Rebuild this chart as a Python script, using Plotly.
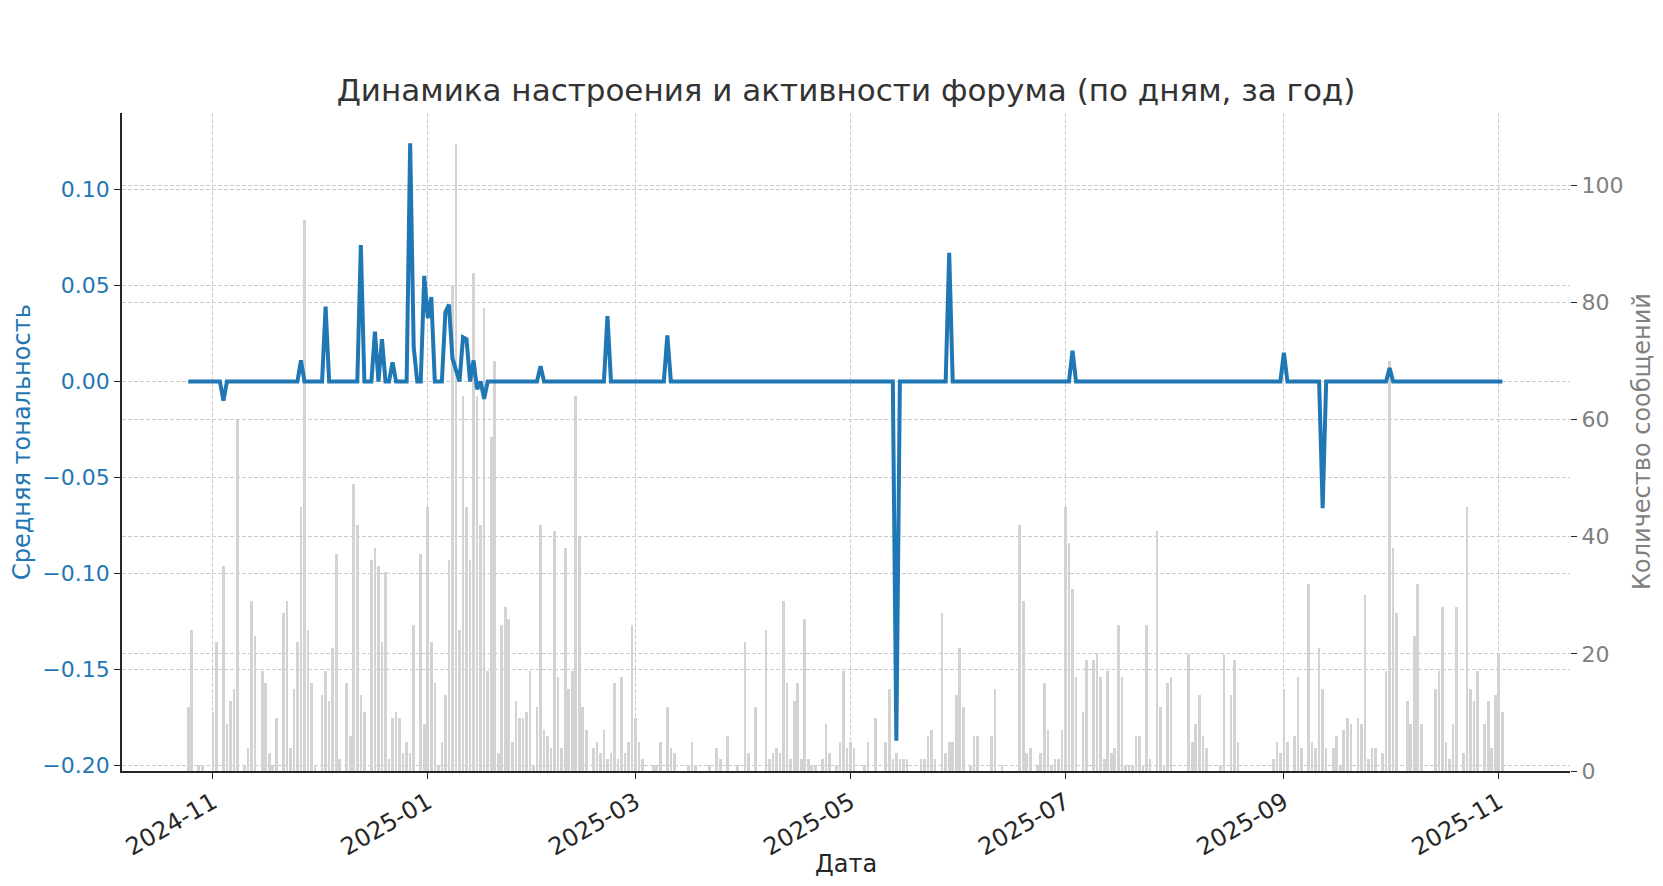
import pandas as pd
import plotly.graph_objects as go

START_DATE = "2024-10-25"

# Количество сообщений по дням (по месяцам, с 25.10.2024 по 02.11.2025)
counts_oct_2024 = [11, 24, 0, 1, 1, 0, 0]
counts_nov_2024 = [10, 22, 0, 35, 8, 12, 14, 60, 0, 1, 4, 29, 23, 0, 17, 15, 3, 1, 9, 0,
                   27, 29, 4, 14, 22, 45, 94, 24, 15, 1]
counts_dec_2024 = [0, 13, 17, 12, 21, 37, 2, 0, 15, 6, 49, 42, 13, 10, 0, 36, 38, 35, 22, 34,
                   2, 9, 10, 9, 3, 5, 3, 25, 0, 37, 8]
counts_jan_2025 = [45, 22, 15, 1, 5, 13, 36, 83, 107, 24, 64, 45, 36, 85, 64, 42, 79, 17, 57, 70,
                   3, 25, 28, 26, 5, 12, 9, 9, 10, 17, 1]
counts_feb_2025 = [11, 42, 7, 6, 4, 41, 16, 4, 38, 14, 17, 64, 40, 11, 7, 0, 4, 5, 3, 7,
                   2, 3, 15, 2, 16, 3, 5, 25]
counts_mar_2025 = [9, 5, 2, 0, 0, 1, 1, 5, 0, 11, 4, 3, 0, 0, 0, 1, 5, 1, 0, 0,
                   0, 1, 0, 4, 2, 0, 6, 0, 0, 1, 0]
counts_apr_2025 = [22, 3, 0, 11, 0, 0, 24, 2, 3, 4, 3, 29, 15, 2, 12, 15, 2, 26, 2, 1,
                   1, 0, 2, 8, 3, 0, 1, 5, 17, 4]
counts_may_2025 = [5, 4, 0, 0, 1, 5, 0, 9, 0, 0, 5, 14, 2, 3, 2, 2, 2, 0, 0, 0,
                   2, 2, 6, 7, 2, 0, 27, 3, 5, 5, 13]
counts_jun_2025 = [21, 11, 0, 1, 6, 6, 0, 0, 0, 6, 14, 0, 1, 0, 0, 0, 0, 42, 29, 3,
                   4, 0, 1, 3, 15, 7, 1, 2, 2, 7]
counts_jul_2025 = [45, 39, 31, 16, 0, 10, 19, 0, 19, 20, 16, 2, 17, 3, 4, 25, 16, 1, 1, 1,
                   6, 6, 1, 25, 2, 0, 41, 11, 1, 15, 16]
counts_aug_2025 = [0, 0, 0, 0, 20, 5, 8, 13, 6, 4, 0, 0, 0, 1, 20, 0, 13, 19, 5, 0,
                   0, 0, 0, 0, 0, 0, 0, 0, 2, 5, 3]
counts_sep_2025 = [14, 5, 0, 6, 16, 4, 0, 32, 5, 4, 21, 14, 4, 0, 4, 6, 1, 7, 9, 8,
                   0, 9, 8, 30, 2, 4, 4, 0, 3, 17]
counts_oct_2025 = [70, 38, 27, 0, 0, 12, 8, 23, 32, 8, 0, 0, 0, 14, 17, 28, 5, 2, 8, 28,
                   0, 3, 45, 14, 12, 17, 0, 8, 12, 4, 13]
counts_nov_2025 = [20, 10]

# Средняя тональность: дни с ненулевым значением (в остальные дни 0)
tone_dates = [
    "2024-11-04", "2024-11-26", "2024-12-03", "2024-12-13", "2024-12-17", "2024-12-19",
    "2024-12-22", "2024-12-27", "2024-12-28", "2024-12-31", "2025-01-01", "2025-01-02",
    "2025-01-06", "2025-01-07", "2025-01-08", "2025-01-09", "2025-01-11", "2025-01-12",
    "2025-01-14", "2025-01-15", "2025-01-17", "2025-02-02", "2025-02-21", "2025-03-10",
    "2025-05-14", "2025-05-29", "2025-07-03", "2025-09-01", "2025-09-12", "2025-10-01",
]
tone_values = [
    -0.010, 0.011, 0.039, 0.071, 0.026, 0.022,
    0.010, 0.124, 0.018, 0.055, 0.033, 0.044,
    0.036, 0.040, 0.012, 0.005, 0.023, 0.022,
    0.011, -0.004, -0.009, 0.008, 0.034, 0.024,
    -0.187, 0.067, 0.016, 0.015, -0.066, 0.007,
]

tick_dates = ["2024-11-01", "2025-01-01", "2025-03-01", "2025-05-01",
              "2025-07-01", "2025-09-01", "2025-11-01"]
tone_ticks = [-0.20, -0.15, -0.10, -0.05, 0.00, 0.05, 0.10]
count_ticks = [0, 20, 40, 60, 80, 100]

BLUE = "#1f77b4"
GRAY = "#808080"
GRID = "#cccccc"
FONT = "DejaVu Sans"

# страница html имеет отступ 8px у body, поэтому фигура чуть меньше окна
PAGE_PAD = 8
WIDTH = 1663 - PAGE_PAD
HEIGHT = 886 - 2 * PAGE_PAD


def build_daily_frame() -> pd.DataFrame:
    """Собирает дневную таблицу: количество сообщений и средняя тональность."""
    counts = (
        counts_oct_2024 + counts_nov_2024 + counts_dec_2024 + counts_jan_2025
        + counts_feb_2025 + counts_mar_2025 + counts_apr_2025 + counts_may_2025
        + counts_jun_2025 + counts_jul_2025 + counts_aug_2025 + counts_sep_2025
        + counts_oct_2025 + counts_nov_2025
    )
    dates = pd.date_range(START_DATE, periods=len(counts), freq="D")
    df = pd.DataFrame({"Count": counts}, index=dates)
    tone = pd.Series(tone_values, index=pd.to_datetime(tone_dates))
    df["Tone"] = tone.reindex(df.index).fillna(0.0)
    df.index.name = "Date"
    return df


def create_activity_chart(df: pd.DataFrame) -> go.Figure:
    """График тональности (линия, левая ось) и активности (столбцы, правая ось)."""
    fig = go.Figure()

    fig.add_trace(
        go.Bar(
            x=df.index,
            y=df["Count"],
            width=0.75 * 86400000,
            marker_color="#d3d3d3",
            marker_line_width=0,
            yaxis="y",
            name="Количество сообщений",
        )
    )
    fig.add_trace(
        go.Scatter(
            x=df.index,
            y=df["Tone"],
            mode="lines",
            line={"color": BLUE, "width": 4},
            yaxis="y2",
            name="Средняя тональность",
        )
    )

    grid = {"showgrid": True, "gridcolor": GRID, "gridwidth": 1, "griddash": "4px,2px"}

    fig.update_layout(
        width=WIDTH,
        height=HEIGHT,
        paper_bgcolor="white",
        plot_bgcolor="white",
        showlegend=False,
        bargap=0,
        margin={"l": 114, "r": 93, "t": 105, "b": 107, "autoexpand": False},
        font={"family": FONT, "size": 22, "color": "#262626"},
        title={
            "text": "Динамика настроения и активности форума (по дням, за год)",
            "x": 0.5,
            "xref": "paper",
            "xanchor": "center",
            "y": 1 - 82 / HEIGHT,
            "yanchor": "middle",
            "font": {"size": 31, "color": "#333333"},
        },
        xaxis={
            **grid,
            "type": "date",
            "range": ["2024-10-06 05:00", "2025-11-21 05:00"],
            "tickvals": tick_dates,
            "tickformat": "%Y-%m",
            "tickangle": -30,
            "ticks": "outside",
            "ticklen": 6,
            "tickcolor": "#262626",
            "showline": True,
            "linecolor": "#262626",
            "linewidth": 1.8,
            "zeroline": False,
            "tickfont": {"size": 24, "color": "#262626"},
        },
        yaxis={
            **grid,
            "side": "right",
            "range": [0, 112.35],
            "tickvals": count_ticks,
            "ticks": "outside",
            "ticklen": 6,
            "tickcolor": "#262626",
            "showline": False,
            "zeroline": False,
            "tickfont": {"size": 22, "color": GRAY},
        },
        yaxis2={
            **grid,
            "overlaying": "y",
            "side": "left",
            "range": [-0.2028, 0.1398],
            "tickvals": tone_ticks,
            "tickformat": ".2f",
            "ticks": "outside",
            "ticklen": 6,
            "tickcolor": "#262626",
            "showline": True,
            "linecolor": "#262626",
            "linewidth": 1.8,
            "zeroline": False,
            "tickfont": {"size": 22, "color": BLUE},
        },
    )

    fig.add_annotation(
        text="Дата", xref="paper", yref="paper", x=0.5, y=-(864 - 771) / 658,
        xanchor="center", yanchor="middle", showarrow=False,
        font={"size": 24, "color": "#262626"},
    )
    fig.add_annotation(
        text="Средняя тональность", xref="paper", yref="paper",
        x=-(122 - 22) / 1448, y=0.5, xanchor="center", yanchor="middle",
        textangle=-90, showarrow=False, font={"size": 24, "color": BLUE},
    )
    fig.add_annotation(
        text="Количество сообщений", xref="paper", yref="paper",
        x=1 + (1642 - 1570) / 1448, y=0.5, xanchor="center", yanchor="middle",
        textangle=-90, showarrow=False, font={"size": 24, "color": GRAY},
    )

    return fig


df = build_daily_frame()
fig = create_activity_chart(df)
fig.write_html("out.html")
